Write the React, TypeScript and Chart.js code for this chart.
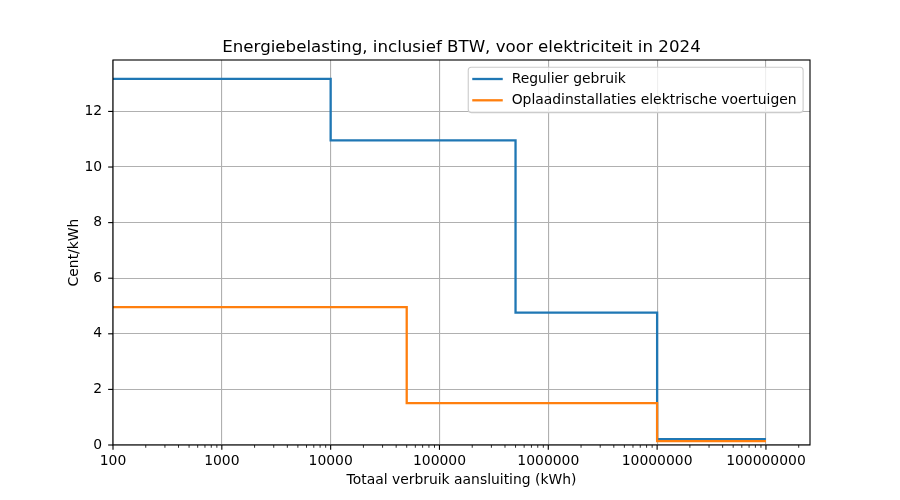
import React, { useEffect, useRef } from "react";
import { Chart, registerables } from "chart.js";

Chart.register(...registerables);

const TITLE = "Energiebelasting, inclusief BTW, voor elektriciteit in 2024";
const X_LABEL = "Totaal verbruik aansluiting (kWh)";
const Y_LABEL = "Cent/kWh";

const SERIES_NAMES = ["Regulier gebruik", "Oplaadinstallaties elektrische voertuigen"];
const SERIES_COLORS = ["#1f77b4", "#ff7f0e"];

const regulierX = [100, 10000, 500000, 10000000, 100000000];
const regulierY = [13.17, 10.96, 4.76, 0.21, 0.21];

const laadX = [100, 50000, 10000000, 100000000];
const laadY = [4.96, 1.51, 0.14, 0.14];

const X_MIN = 100;
const X_MAX = 2.54e8;
const Y_MIN = 0;
const Y_MAX = 13.85;
const Y_STEP = 2;

const FONT = "'DejaVu Sans', sans-serif";
const FS = 13.9;

const isPow10 = (v: number) => {
  const l = Math.log10(v);
  return Math.abs(l - Math.round(l)) < 1e-9;
};
const isMinor = (v: number) => {
  const e = Math.floor(Math.log10(v) + 1e-9);
  const m = v / Math.pow(10, e);
  return Math.abs(m - Math.round(m)) < 1e-6 && Math.round(m) >= 2 && Math.round(m) <= 9;
};

const framePlugin = {
  id: "mplFrame",
  afterDraw(chart: any) {
    const { ctx, chartArea: a, scales } = chart;
    ctx.save();
    // title
    ctx.font = `16.67px ${FONT}`;
    ctx.fillStyle = "#000";
    ctx.textAlign = "center";
    ctx.textBaseline = "alphabetic";
    ctx.fillText(TITLE, (a.left + a.right) / 2, a.top - 7.8);

    // tick marks
    ctx.strokeStyle = "#000";
    const xs = scales.x;
    xs.ticks.forEach((t: any) => {
      const v = t.value;
      if (v > X_MAX || v < X_MIN) return;
      const px = xs.getPixelForValue(v);
      let len = 0;
      if (isPow10(v)) { len = 4.86; ctx.lineWidth = 1.11; }
      else if (isMinor(v)) { len = 2.78; ctx.lineWidth = 0.83; }
      else return;
      ctx.beginPath();
      ctx.moveTo(px, a.bottom);
      ctx.lineTo(px, a.bottom + len);
      ctx.stroke();
    });
    const ys = scales.y;
    ctx.lineWidth = 1.11;
    ys.ticks.forEach((t: any) => {
      const py = ys.getPixelForValue(t.value);
      ctx.beginPath();
      ctx.moveTo(a.left - 4.86, py);
      ctx.lineTo(a.left, py);
      ctx.stroke();
    });
    // frame
    ctx.lineWidth = 1.11;
    ctx.strokeStyle = "#000";
    ctx.strokeRect(a.left, a.top, a.right - a.left, a.bottom - a.top);

    // legend
    ctx.font = `${FS}px ${FONT}`;
    const ds = chart.data.datasets;
    let maxW = 0;
    ds.forEach((d: any) => { maxW = Math.max(maxW, ctx.measureText(d.label).width); });
    const right = a.right - 6.9;
    const top = a.top + 7.2;
    const textOff = 43.4;
    const left = right - (textOff + maxW + 6.5);
    const bottom = top + 45.4;
    const r = 3;
    ctx.beginPath();
    ctx.moveTo(left + r, top);
    ctx.lineTo(right - r, top);
    ctx.quadraticCurveTo(right, top, right, top + r);
    ctx.lineTo(right, bottom - r);
    ctx.quadraticCurveTo(right, bottom, right - r, bottom);
    ctx.lineTo(left + r, bottom);
    ctx.quadraticCurveTo(left, bottom, left, bottom - r);
    ctx.lineTo(left, top + r);
    ctx.quadraticCurveTo(left, top, left + r, top);
    ctx.closePath();
    ctx.fillStyle = "rgba(255,255,255,0.8)";
    ctx.fill();
    ctx.strokeStyle = "#cccccc";
    ctx.lineWidth = 1.11;
    ctx.stroke();
    ds.forEach((d: any, i: number) => {
      const cy = top + 11.8 + i * 21.3;
      ctx.strokeStyle = d.borderColor;
      ctx.lineWidth = 2.3;
      ctx.beginPath();
      ctx.moveTo(left + 4, cy);
      ctx.lineTo(left + 34.5, cy);
      ctx.stroke();
      ctx.fillStyle = "#000";
      ctx.textBaseline = "middle";
      ctx.textAlign = "left";
      ctx.fillText(d.label, left + textOff, cy + 0.5);
    });
    ctx.restore();
  },
};

export default function App() {
  const ref = useRef<HTMLCanvasElement | null>(null);
  useEffect(() => {
    if (!ref.current) return;
    Chart.defaults.font.family = FONT;
    Chart.defaults.color = "#000";
    const chart = new Chart(ref.current, {
      type: "line",
      data: {
        datasets: [
          {
            label: SERIES_NAMES[0],
            data: regulierX.map((x, i) => ({ x, y: regulierY[i] })),
            borderColor: SERIES_COLORS[0],
            backgroundColor: SERIES_COLORS[0],
            borderWidth: 2.3,
            pointRadius: 0,
            stepped: true,
            fill: false,
            order: 2,
          },
          {
            label: SERIES_NAMES[1],
            data: laadX.map((x, i) => ({ x, y: laadY[i] })),
            borderColor: SERIES_COLORS[1],
            backgroundColor: SERIES_COLORS[1],
            borderWidth: 2.3,
            pointRadius: 0,
            stepped: true,
            fill: false,
            order: 1,
          },
        ],
      },
      options: {
        animation: false,
        responsive: false,
        devicePixelRatio: 1,
        layout: { padding: { left: 0, right: 90, top: 60, bottom: 0 } },
        plugins: {
          legend: { display: false },
          tooltip: { enabled: false },
          title: { display: false },
        },
        scales: {
          x: {
            type: "logarithmic",
            min: X_MIN,
            max: X_MAX,
            afterFit: (s: any) => { s.height = 55; },
            border: { display: false },
            grid: {
              drawTicks: false,
              lineWidth: 1.11,
              color: (c: any) => (c.tick && isPow10(c.tick.value) ? "#b0b0b0" : "rgba(0,0,0,0)"),
            },
            ticks: {
              autoSkip: false,
              maxRotation: 0,
              minRotation: 0,
              padding: 8.2,
              color: "#000",
              font: { family: FONT, size: FS },
              callback: (v: any) => (isPow10(Number(v)) ? String(Math.round(Number(v))) : ""),
            },
            title: {
              display: true,
              text: X_LABEL,
              color: "#000",
              font: { family: FONT, size: FS, lineHeight: 1.2 },
              padding: { top: 0, bottom: 11.2 },
            },
          },
          y: {
            type: "linear",
            min: Y_MIN,
            max: Y_MAX,
            afterFit: (s: any) => { s.width = 113; },
            border: { display: false },
            grid: { drawTicks: false, lineWidth: 1.11, color: "#b0b0b0" },
            ticks: {
              stepSize: Y_STEP,
              includeBounds: false,
              padding: 10.8,
              color: "#000",
              font: { family: FONT, size: FS },
            },
            title: {
              display: true,
              text: Y_LABEL,
              color: "#000",
              font: { family: FONT, size: FS, lineHeight: 1.2 },
              padding: { top: 66, bottom: 0 },
            },
          },
        },
      } as any,
      plugins: [framePlugin],
    });
    return () => chart.destroy();
  }, []);
  return (
    <div style={{ position: "fixed", left: 0, top: 0, width: 900, height: 500, background: "#fff" }}>
      <canvas ref={ref} width={900} height={500} style={{ width: 900, height: 500 }} />
    </div>
  );
}
